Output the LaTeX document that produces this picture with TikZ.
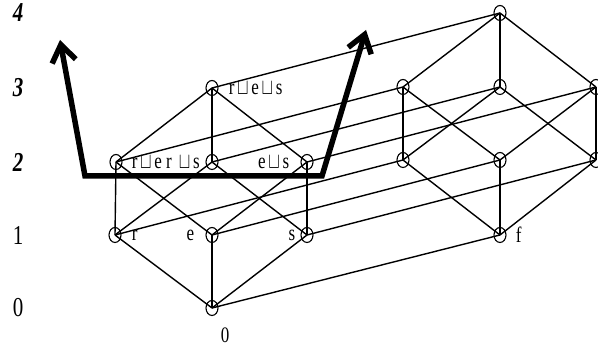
\documentclass[tikz,border=0pt]{standalone}
\usepackage{fontspec}
\setmainfont{Liberation Serif}
\usepackage{graphicx}
\usepackage{tikz}
\usetikzlibrary{positioning,arrows.meta,shapes.geometric}
\newcommand{\jn}{\makebox[1em]{$\sqcup$}}
\newcommand{\tall}[1]{\scalebox{1}[1.3]{#1}}
\tikzset{
  elem/.style={
    ellipse,
    draw,
    line width=1.1pt,
    minimum width=12pt,
    minimum height=15pt,
    inner sep=0pt
  },
  lbl/.style={
    inner sep=0pt,
    font=\fontsize{17}{17}\selectfont
  },
  lvl/.style={
    inner sep=0pt,
    font=\fontsize{21}{21}\selectfont
  },
  link/.style={
    line width=1.4pt
  },
  bigarrow/.style={
    line width=5.5pt,
    line join=miter,
    {Straight Barb[length=17pt,width=24pt]}-{Straight Barb[length=17pt,width=24pt]}
  }
}

\begin{document}
\begin{tikzpicture}[x=1pt,y=-1pt]
  \clip (0,0) rectangle (598,347);

  % Level numbers
  \node[lvl] (l4) at (18,13) {\tall{\textbf{\textit{4}}}};
  \node[lvl] (l3) at (18,88) {\tall{\textbf{\textit{3}}}};
  \node[lvl] (l2) at (18,162) {\tall{\textbf{\textit{2}}}};
  \node[lvl] (l1) at (18,235) {\tall{1}};
  \node[lvl] (l0) at (18,308) {\tall{0}};

  % Front cube (without f)
  \node[elem] (n0) at (212,308) {};
  \node[elem] (nr) at (115,235) {};
  \node[elem] (ne) at (212,235) {};
  \node[elem] (ns) at (307,235) {};
  \node[elem] (nre) at (116,162) {};
  \node[elem] (nrs) at (212,162) {};
  \node[elem] (nes) at (307,162) {};
  \node[elem] (nres) at (212,88) {};

  % Back cube (with f)
  \node[elem] (nf) at (500,235) {};
  \node[elem] (nrf) at (403,160) {};
  \node[elem] (nef) at (500,160) {};
  \node[elem] (nsf) at (596,160) {};
  \node[elem] (nref) at (403,87) {};
  \node[elem] (nrsf) at (500,87) {};
  \node[elem] (nesf) at (596,87) {};
  \node[elem] (ntop) at (500,13) {};

  % Labels
  \node[lbl, right=10pt of nres] (tres) {\tall{r\jn e\jn s}};
  \node[lbl, right=9pt of nre] (tre) {\tall{r\jn e r \jn s}};
  \node[lbl, left=11pt of nes] (tes) {\tall{e\jn s}};
  \node[lbl, right=10pt of nr] (tr) {\tall{r}};
  \node[lbl, left=11pt of ne] (te) {\tall{e}};
  \node[lbl, left=5pt of ns] (ts) {\tall{s}};
  \node[lbl, right=9pt of nf] (tf) {\tall{f}};
  \node[lbl, below=12pt of n0, xshift=13pt] (t0) {\tall{0}};

  % Front cube edges
  \draw[link] (n0.center) -- (nr.center);
  \draw[link] (n0.center) -- (ne.center);
  \draw[link] (n0.center) -- (ns.center);
  \draw[link] (nr.center) -- (nre.center);
  \draw[link] (nr.center) -- (nrs.center);
  \draw[link] (ne.center) -- (nre.center);
  \draw[link] (ne.center) -- (nes.center);
  \draw[link] (ns.center) -- (nrs.center);
  \draw[link] (ns.center) -- (nes.center);
  \draw[link] (nre.center) -- (nres.center);
  \draw[link] (nrs.center) -- (nres.center);
  \draw[link] (nes.center) -- (nres.center);

  % Back cube edges
  \draw[link] (nf.center) -- (nrf.center);
  \draw[link] (nf.center) -- (nef.center);
  \draw[link] (nf.center) -- (nsf.center);
  \draw[link] (nrf.center) -- (nref.center);
  \draw[link] (nrf.center) -- (nrsf.center);
  \draw[link] (nef.center) -- (nref.center);
  \draw[link] (nef.center) -- (nesf.center);
  \draw[link] (nsf.center) -- (nrsf.center);
  \draw[link] (nsf.center) -- (nesf.center);
  \draw[link] (nref.center) -- (ntop.center);
  \draw[link] (nrsf.center) -- (ntop.center);
  \draw[link] (nesf.center) -- (ntop.center);

  % Joins with f
  \draw[link] (n0.center) -- (nf.center);
  \draw[link] (nr.center) -- (nrf.center);
  \draw[link] (ne.center) -- (nef.center);
  \draw[link] (ns.center) -- (nsf.center);
  \draw[link] (nre.center) -- (nref.center);
  \draw[link] (nrs.center) -- (nrsf.center);
  \draw[link] (nes.center) -- (nesf.center);
  \draw[link] (nres.center) -- (ntop.center);

  % Thick arrow
  \coordinate (atipl) at (60,40);
  \coordinate (abotl) at (85,176);
  \coordinate (abotr) at (322,176);
  \coordinate (atipr) at (366,30);
  \draw[bigarrow] (atipl) -- (abotl) -- (abotr) -- (atipr);
\end{tikzpicture}
\end{document}
